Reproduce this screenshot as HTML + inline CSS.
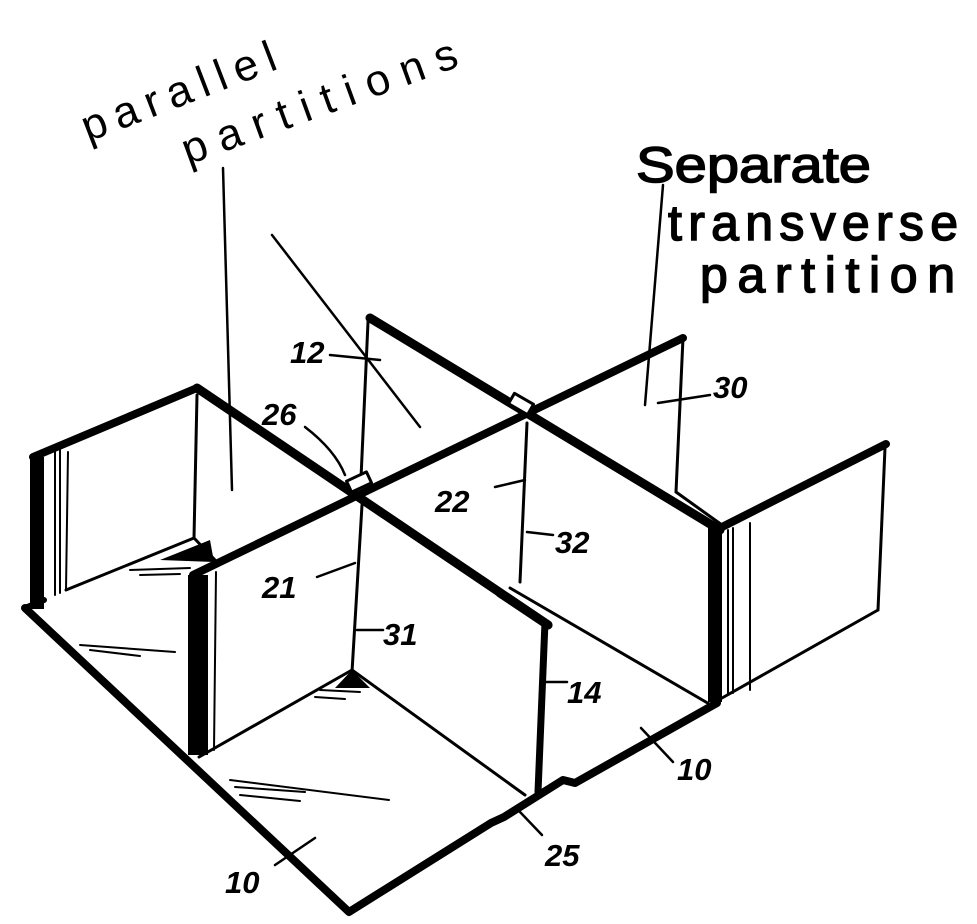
<!DOCTYPE html>
<html><head><meta charset="utf-8"><style>
html,body{margin:0;padding:0;background:#fff;}
svg{display:block}
text{font-family:"Liberation Sans",sans-serif;fill:#000}
.n{font-style:italic;font-weight:bold;font-size:31px}
.h{font-size:44px}
.s{font-size:50px}
</style></head><body>
<svg width="977" height="924" viewBox="0 0 977 924" xmlns="http://www.w3.org/2000/svg">
<g stroke="#000" fill="none" stroke-linecap="round" stroke-linejoin="round">
<line x1="33" y1="457" x2="197" y2="388" stroke-width="8"/>
<rect x="30" y="457" width="14" height="152" fill="#000" stroke="none"/>
<line x1="55" y1="450" x2="55" y2="595" stroke-width="2"/>
<line x1="60" y1="450" x2="60" y2="593" stroke-width="2"/>
<line x1="68" y1="452" x2="66" y2="590" stroke-width="2"/>
<line x1="197" y1="395" x2="194" y2="538" stroke-width="3"/>
<line x1="66" y1="590" x2="194" y2="538" stroke-width="3"/>
<line x1="194" y1="538" x2="215" y2="560" stroke-width="3"/>
<line x1="197" y1="388" x2="548" y2="625" stroke-width="9"/>
<line x1="193" y1="575" x2="683" y2="338" stroke-width="8"/>
<line x1="683" y1="338" x2="676" y2="492" stroke-width="3"/>
<line x1="370" y1="318" x2="720" y2="530" stroke-width="9"/>
<line x1="368" y1="322" x2="361" y2="478" stroke-width="3"/>
<rect x="348" y="476" width="22" height="12" fill="#fff" stroke-width="3" transform="rotate(-25 359 482)"/>
<rect x="510" y="398" width="22" height="12" fill="#fff" stroke-width="3" transform="rotate(30 521 404)"/>
<line x1="527" y1="423" x2="520" y2="582" stroke-width="3"/>
<line x1="510" y1="588" x2="711" y2="705" stroke-width="3"/>
<line x1="676" y1="492" x2="722" y2="525" stroke-width="3"/>
<rect x="708" y="527" width="14" height="175" fill="#000" stroke="none"/>
<line x1="728" y1="530" x2="728" y2="695" stroke-width="2"/>
<line x1="733" y1="528" x2="733" y2="693" stroke-width="2"/>
<line x1="750" y1="523" x2="750" y2="690" stroke-width="2"/>
<line x1="722" y1="527" x2="886" y2="444" stroke-width="8"/>
<line x1="885" y1="448" x2="878" y2="610" stroke-width="3"/>
<line x1="878" y1="610" x2="722" y2="698" stroke-width="3"/>
<rect x="188" y="575" width="20" height="180" fill="#000" stroke="none"/>
<line x1="216" y1="572" x2="214" y2="750" stroke-width="2"/>
<line x1="362" y1="505" x2="352" y2="672" stroke-width="3"/>
<line x1="199" y1="757" x2="352" y2="670" stroke-width="3"/>
<line x1="352" y1="670" x2="525" y2="795" stroke-width="3"/>
<polygon points="352,670 335,688 370,688" fill="#000" stroke="none"/>
<line x1="545" y1="622" x2="538" y2="792" stroke-width="7"/>
<line x1="500" y1="593" x2="548" y2="625" stroke-width="9"/>
<polyline points="25,608 349,912 491,823 504,817 563,780 575,783 717,703" stroke-width="8"/>
<line x1="25" y1="608" x2="44" y2="600" stroke-width="6"/>
<polygon points="160,560 210,540 214,562" fill="#000" stroke="none"/>
<g stroke-width="2">
<line x1="130" y1="570" x2="190" y2="568"/><line x1="140" y1="575" x2="180" y2="574"/>
<line x1="80" y1="645" x2="175" y2="652"/><line x1="90" y1="650" x2="140" y2="656"/>
<line x1="230" y1="780" x2="389" y2="800"/><line x1="235" y1="787" x2="305" y2="792"/><line x1="240" y1="795" x2="300" y2="801"/>
<line x1="320" y1="690" x2="360" y2="692"/><line x1="315" y1="697" x2="345" y2="699"/>
</g>
<g stroke-width="2.5">
<line x1="223" y1="168" x2="232" y2="490"/>
<line x1="272" y1="235" x2="420" y2="427"/>
<line x1="663" y1="185" x2="645" y2="405"/>
<line x1="330" y1="355" x2="380" y2="360"/>
<path d="M305 427 Q335 450 345 475"/>
<line x1="495" y1="487" x2="525" y2="480"/>
<line x1="527" y1="532" x2="553" y2="535"/>
<line x1="658" y1="403" x2="710" y2="395"/>
<line x1="317" y1="577" x2="355" y2="563"/>
<line x1="357" y1="630" x2="383" y2="630"/>
<line x1="546" y1="682" x2="567" y2="682"/>
<line x1="641" y1="728" x2="673" y2="762"/>
<line x1="520" y1="812" x2="542" y2="835"/>
<line x1="275" y1="865" x2="315" y2="838"/>
</g>
</g>
<text class="h" transform="translate(88,142) rotate(-21)" textLength="205" lengthAdjust="spacing">parallel</text>
<text class="h" transform="translate(188,165) rotate(-20)" textLength="290" lengthAdjust="spacing">partitions</text>
<text class="s" x="636" y="182" textLength="235" lengthAdjust="spacingAndGlyphs" stroke="#000" stroke-width="1.5">Separate</text>
<text class="s" x="668" y="240" textLength="290" lengthAdjust="spacing" stroke="#000" stroke-width="1.5">transverse</text>
<text class="s" x="700" y="292" textLength="255" lengthAdjust="spacing" stroke="#000" stroke-width="1.5">partition</text>
<text class="n" x="290" y="363">12</text>
<text class="n" x="262" y="425">26</text>
<text class="n" x="435" y="512">22</text>
<text class="n" x="555" y="553">32</text>
<text class="n" x="713" y="398">30</text>
<text class="n" x="262" y="598">21</text>
<text class="n" x="383" y="645">31</text>
<text class="n" x="567" y="703">14</text>
<text class="n" x="677" y="780">10</text>
<text class="n" x="545" y="866">25</text>
<text class="n" x="225" y="893">10</text>
</svg>
</body></html>
